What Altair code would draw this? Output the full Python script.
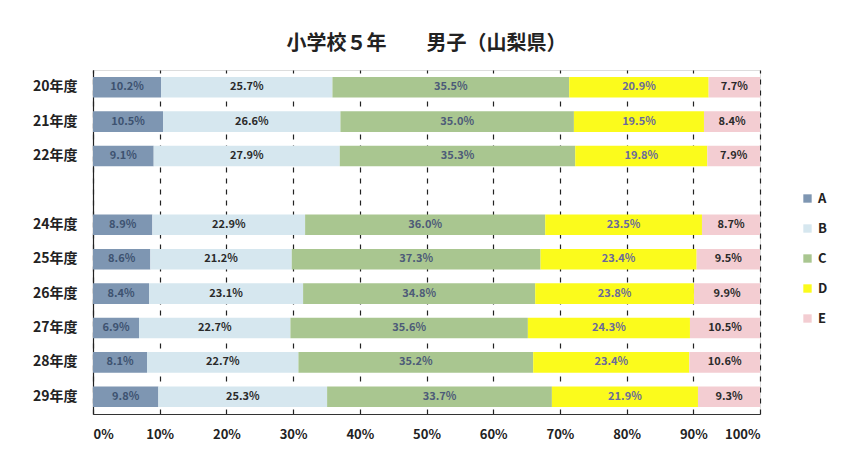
import altair as alt
import pandas as pd

years = ["20年度", "21年度", "22年度", "24年度", "25年度", "26年度", "27年度", "28年度", "29年度"]
axis_years = ["20年度", "21年度", "22年度", "23年度", "24年度", "25年度", "26年度", "27年度", "28年度", "29年度"]
cats = ["A", "B", "C", "D", "E"]
A = [10.2, 10.5, 9.1, 8.9, 8.6, 8.4, 6.9, 8.1, 9.8]
B = [25.7, 26.6, 27.9, 22.9, 21.2, 23.1, 22.7, 22.7, 25.3]
C = [35.5, 35.0, 35.3, 36.0, 37.3, 34.8, 35.6, 35.2, 33.7]
D = [20.9, 19.5, 19.8, 23.5, 23.4, 23.8, 24.3, 23.4, 21.9]
E = [7.7, 8.4, 7.9, 8.7, 9.5, 9.9, 10.5, 10.6, 9.3]
colors = ["#7e96b2", "#d6e7ef", "#a9c690", "#fbfb1c", "#f3cdd2"]
label_colors = ["#3d5270", "#2a2a2a", "#4d5b78", "#6a6a9c", "#2a2a2a"]

rows = []
for i, y in enumerate(years):
    for j, (c, vals) in enumerate(zip(cats, [A, B, C, D, E])):
        rows.append({"year": y, "cat": c, "order": j, "value": vals[i],
                     "label": f"{vals[i]:.1f}%"})
df = pd.DataFrame(rows)

FONT = "Noto Sans CJK JP"

base = alt.Chart(df).transform_stack(
    stack="value", as_=["v0", "v1"], groupby=["year"],
    sort=[alt.SortField("order")], offset="normalize"
).transform_calculate(mid="(datum.v0 + datum.v1) / 2")

yenc = alt.Y("year:N", scale=alt.Scale(domain=axis_years, paddingInner=0.4, paddingOuter=0.2),
             axis=alt.Axis(title=None, labelExpr="datum.value == '23年度' ? '' : datum.value",
                           labelFont=FONT, labelFontSize=14, labelFontWeight="bold",
                           labelColor="#222", labelPadding=16, ticks=False,
                           domainColor="#222", domainWidth=1.2))

bars = base.mark_bar().encode(
    x=alt.X("v0:Q", scale=alt.Scale(domain=[0, 1], nice=False),
            axis=alt.Axis(title=None, format=".0%", values=[i / 10 for i in range(11)],
                          labelFont=FONT, labelFontSize=13, labelFontWeight="bold",
                          labelColor="#222", labelPadding=14, ticks=False, domain=True,
                          domainColor="#333", domainWidth=1.2,
                          grid=True, gridColor="#222", gridDash=[5, 6], gridWidth=1.2)),
    x2="v1:Q",
    y=yenc,
    color=alt.Color("cat:N", scale=alt.Scale(domain=cats, range=colors),
                    legend=alt.Legend(title=None, orient="none", legendX=708, legendY=122,
                                      symbolType="square", symbolSize=70, symbolStrokeWidth=0,
                                      labelFont=FONT, labelFontSize=13, labelFontWeight="bold",
                                      labelColor="#222", rowPadding=16)),
)

text = base.mark_text(font=FONT, fontSize=11, fontWeight="bold").encode(
    x=alt.X("mid:Q"),
    y=alt.Y("year:N", scale=alt.Scale(domain=axis_years)),
    text="label:N",
    color=alt.Color("cat:N", scale=alt.Scale(domain=cats, range=label_colors), legend=None),
)

chart = alt.layer(bars, text).resolve_scale(color="independent").properties(
    width=667, height=344,
    padding={"left": 85, "top": 62, "right": 85, "bottom": 34},
    autosize=alt.AutoSizeParams(type="none"),
    title=alt.Title("小学校５年　　男子（山梨県）", font=FONT, fontSize=20, fontWeight="bold",
                    color="#222", anchor="middle", offset=16),
).configure_view(stroke=None).configure(background="white")

chart.save("out.html", embed_options={"renderer": "svg", "actions": False})
